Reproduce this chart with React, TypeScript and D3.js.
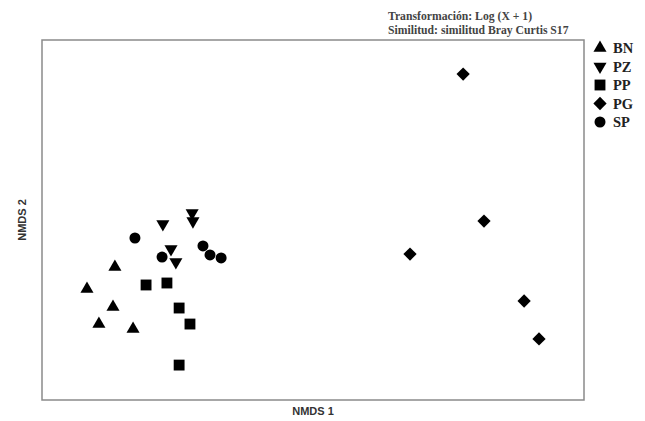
import React from "react";
import * as d3 from "d3";

// NMDS scores per group
const groups = ["BN", "PZ", "PP", "PG", "SP"];
const bnX = [-0.731, -0.834, -0.738, -0.79, -0.664];
const bnY = [-0.261, -0.383, -0.483, -0.578, -0.606];
const pzX = [-0.554, -0.446, -0.443, -0.524, -0.506];
const pzY = [-0.022, 0.039, -0.006, -0.161, -0.233];
const ppX = [-0.616, -0.539, -0.494, -0.454, -0.494];
const ppY = [-0.361, -0.35, -0.489, -0.578, -0.806];
const pgX = [0.554, 0.631, 0.358, 0.779, 0.834];
const pgY = [0.811, -0.006, -0.189, -0.45, -0.661];
const spX = [-0.657, -0.557, -0.406, -0.38, -0.339];
const spY = [-0.1, -0.206, -0.144, -0.194, -0.211];

const seriesX = [bnX, pzX, ppX, pgX, spX];
const seriesY = [bnY, pzY, ppY, pgY, spY];

const W = 645;
const H = 421;
const frame = { left: 42, right: 584, top: 40, bottom: 400 };

// symbol for each group: path + rotation
const symbolFor = (i: number) => {
  switch (i) {
    case 0:
      return { d: d3.symbol(d3.symbolTriangle, 74)()!, rot: 0 };
    case 1:
      return { d: d3.symbol(d3.symbolTriangle, 74)()!, rot: 180 };
    case 2:
      return { d: d3.symbol(d3.symbolSquare, 118)()!, rot: 0 };
    case 3:
      return { d: d3.symbol(d3.symbolSquare, 88)()!, rot: 45 };
    default:
      return { d: d3.symbol(d3.symbolCircle, 95)()!, rot: 0 };
  }
};

export default function App() {
  const x = d3.scaleLinear().domain([-1, 1]).range([frame.left, frame.right]);
  const y = d3.scaleLinear().domain([-1, 1]).range([frame.bottom, frame.top]);

  const legendY = d3.scalePoint<string>().domain(groups).range([48, 122]);

  return (
    <svg
      width={W}
      height={H}
      style={{ position: "absolute", left: 0, top: 0, background: "#fff" }}
    >
      <rect
        x={frame.left}
        y={frame.top}
        width={frame.right - frame.left}
        height={frame.bottom - frame.top}
        fill="none"
        stroke="#8a8a8a"
        strokeWidth={1.5}
      />

      {/* header */}
      <g
        fontFamily="'Liberation Serif', serif"
        fontWeight="bold"
        fontSize={11.7}
        fill="#444"
      >
        <text x={388} y={20}>Transformación: Log (X + 1)</text>
        <text x={388} y={34}>Similitud: similitud Bray Curtis S17</text>
      </g>

      {/* points */}
      {seriesX.map((xs, gi) => {
        const s = symbolFor(gi);
        return (
          <g key={groups[gi]} fill="#000">
            {xs.map((v, j) => (
              <path
                key={j}
                d={s.d}
                transform={`translate(${x(v)},${y(seriesY[gi][j])}) rotate(${s.rot})`}
              />
            ))}
          </g>
        );
      })}

      {/* legend */}
      {groups.map((g, gi) => {
        const s = symbolFor(gi);
        const ly = legendY(g)!;
        return (
          <g key={g}>
            <path
              d={s.d}
              transform={`translate(600,${ly}) rotate(${s.rot})`}
              fill="#000"
            />
            <text
              x={613}
              y={ly + 5}
              fontFamily="'Liberation Serif', serif"
              fontWeight="bold"
              fontSize={14.5}
              fill="#222"
            >
              {g}
            </text>
          </g>
        );
      })}

      {/* axis titles */}
      <text
        x={(frame.left + frame.right) / 2}
        y={415}
        textAnchor="middle"
        fontFamily="'Liberation Sans', Arial, sans-serif"
        fontWeight="bold"
        fontSize={11}
        fill="#333"
      >
        NMDS 1
      </text>
      <text
        transform={`translate(26,${(frame.top + frame.bottom) / 2}) rotate(-90)`}
        textAnchor="middle"
        fontFamily="'Liberation Sans', Arial, sans-serif"
        fontWeight="bold"
        fontSize={11}
        fill="#333"
      >
        NMDS 2
      </text>
    </svg>
  );
}
